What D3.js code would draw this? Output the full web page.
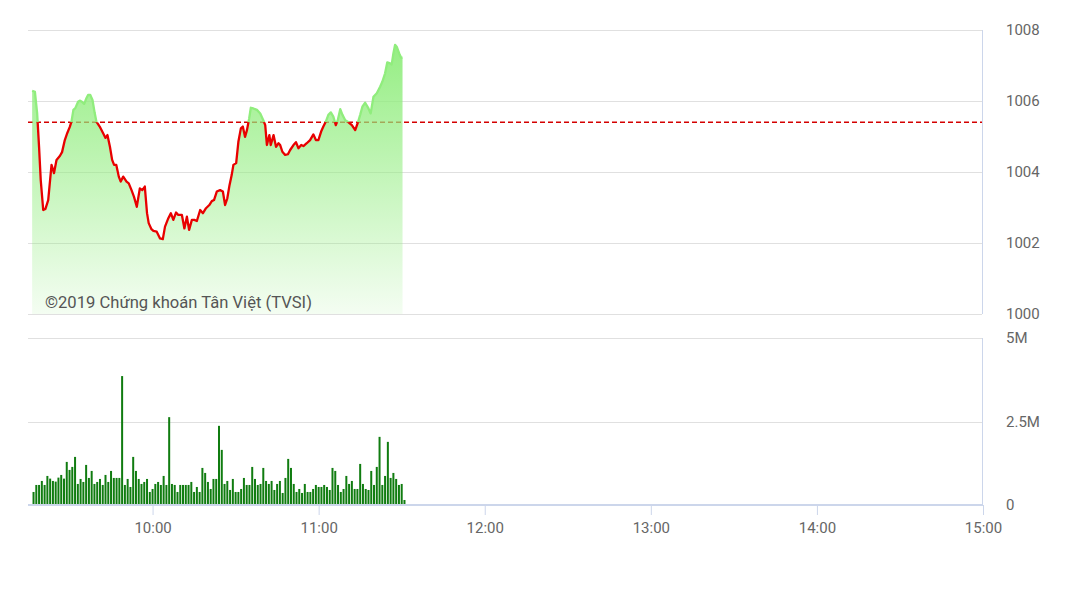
<!DOCTYPE html>
<html>
<head>
<meta charset="utf-8">
<script src="https://cdn.jsdelivr.net/npm/d3@7"></script>
<style>
  html, body { margin: 0; padding: 0; background: #fff; }
  svg { display: block; font-family: Roboto, "Noto Sans", sans-serif; }
</style>
</head>
<body>
<svg id="chart" width="1081" height="607"></svg>
<script>
// ---------- data ----------
// price samples: minutes after 09:15, index value
const priceMin = [
  1.5, 2.5, 3.3, 4.0, 4.6, 5.5, 6.3, 7.3, 8.5, 9.4,
  10.3, 11.5, 12.3, 13.3, 14.2, 15.1, 15.7, 16.4, 17.1, 18.1,
  18.7, 19.5, 20.3, 21.1, 21.7, 22.5, 23.3, 24.1, 24.7, 25.9,
  27.1, 28.0, 28.7, 29.6, 30.4, 31.1, 31.9, 32.8, 33.5, 34.4,
  35.6, 36.4, 37.4, 38.3, 39.3, 40.4, 41.3, 42.2, 43.0, 43.6,
  44.6, 45.3, 46.5, 47.7, 48.7, 49.5, 50.7, 51.6, 52.5, 53.5,
  54.3, 55.6, 56.5, 57.4, 58.2, 59.2, 60.1, 61.0, 62.2, 63.2,
  64.3, 65.5, 66.4, 67.2, 68.2, 69.4, 70.4, 71.2, 72.0, 72.8,
  73.6, 74.2, 75.2, 76.0, 76.9, 77.6, 78.4, 79.1, 79.9, 80.5,
  81.4, 82.7, 83.9, 85.0, 85.7, 86.3, 87.2, 87.7, 88.7, 89.6,
  90.5, 91.1, 91.9, 92.9, 93.9, 94.7, 95.9, 96.8, 97.7, 98.7,
  99.5, 100.7, 101.9, 103.1, 104.0, 104.9, 105.9, 106.7, 107.6, 108.5,
  109.4, 110.3, 111.2, 111.9, 112.8, 113.6, 114.6, 115.8, 117.0, 118.2,
  119.2, 120.0, 120.8, 121.8, 123.0, 123.8, 124.8, 126.0, 127.2, 128.0,
  129.0, 129.8, 130.8, 131.4, 132.0, 132.6, 133.2, 134.1, 134.8, 135.3
];
const priceVal = [
  1006.29,1006.26,1005.66,1004.70,1003.77,1002.93,1002.96,1003.21,1004.20,1003.97,
  1004.34,1004.45,1004.56,1004.90,1005.10,1005.27,1005.42,1005.75,1005.80,1005.98,
  1006.01,1005.98,1005.92,1006.08,1006.17,1006.17,1006.03,1005.66,1005.42,1005.28,
  1005.10,1004.96,1005.04,1004.71,1004.34,1004.20,1004.20,1003.87,1003.73,1003.87,
  1003.73,1003.68,1003.49,1003.30,1003.02,1003.54,1003.49,1003.59,1002.84,1002.56,
  1002.39,1002.34,1002.32,1002.13,1002.11,1002.46,1002.70,1002.84,1002.65,1002.86,
  1002.79,1002.79,1002.41,1002.74,1002.37,1002.65,1002.65,1002.62,1002.93,1002.84,
  1002.98,1003.07,1003.18,1003.21,1003.45,1003.49,1003.45,1003.07,1003.26,1003.63,
  1003.92,1004.20,1004.25,1004.85,1005.23,1005.28,1004.99,1005.18,1005.51,1005.81,
  1005.79,1005.75,1005.65,1005.46,1005.32,1004.76,1005.04,1004.76,1005.04,1004.71,
  1004.81,1004.76,1004.57,1004.48,1004.50,1004.62,1004.76,1004.84,1004.67,1004.76,
  1004.73,1004.81,1004.90,1005.06,1004.90,1004.90,1005.14,1005.28,1005.42,1005.61,
  1005.68,1005.56,1005.32,1005.46,1005.77,1005.61,1005.46,1005.40,1005.32,1005.18,
  1005.40,1005.61,1005.84,1005.95,1005.79,1005.65,1006.12,1006.22,1006.40,1006.54,
  1006.78,1007.09,1007.06,1007.03,1007.34,1007.58,1007.53,1007.34,1007.22,1007.22
];
const refPrice = 1005.4;

// volume per minute (millions), first bar at 09:17
const volStartMin = 2;
const volume = [
  0.39,0.60,0.60,0.72,0.60,0.87,0.79,0.72,0.70,0.82,
  0.90,0.79,1.29,1.05,1.14,1.44,0.63,0.78,0.69,1.20,
  0.81,1.02,0.63,0.69,0.78,0.60,0.90,0.69,1.02,0.81,
  0.81,0.81,3.86,0.60,0.78,0.54,1.44,1.02,0.78,0.63,
  0.69,0.78,0.39,0.48,0.63,0.69,0.60,0.87,0.60,2.63,
  0.63,0.60,0.39,0.60,0.60,0.60,0.60,0.69,0.39,0.54,
  0.39,1.11,0.96,0.69,0.48,0.78,0.78,2.37,1.65,0.63,
  0.72,0.45,0.78,0.39,0.39,0.48,0.81,0.60,0.60,1.14,
  0.78,0.60,0.63,1.11,0.72,0.63,0.72,0.45,0.63,0.72,
  0.36,0.81,1.38,1.11,0.63,0.39,0.48,0.36,0.63,0.39,
  0.39,0.48,0.60,0.54,0.54,0.60,0.54,0.45,1.11,1.02,
  0.60,0.39,0.48,0.87,0.63,0.72,0.48,0.48,1.23,0.63,
  0.48,0.45,1.02,0.60,1.14,2.04,0.60,0.87,1.89,0.81,
  0.96,0.78,0.60,0.63,0.15
];

const priceTicks = [1000, 1002, 1004, 1006, 1008];
const volTicks = [0, 2.5, 5];
const volTickLabels = ["0", "2.5M", "5M"];
const timeTicks = ["10:00", "11:00", "12:00", "13:00", "14:00", "15:00"];
const sessionStart = "09:15", sessionEnd = "15:00";
const watermark = "©2019 Chứng khoán Tân Việt (TVSI)";

// ---------- helpers ----------
const base = "2019-01-01T";
const parseT = s => new Date(base + s + ":00");
const t0 = parseT(sessionStart);
const minToDate = m => new Date(t0.getTime() + m * 60000);

const svg = d3.select("#chart");
const left = 28, right = 983;

const x = d3.scaleTime().domain([parseT(sessionStart), parseT(sessionEnd)]).range([left, right]);
const yP = d3.scaleLinear().domain([1000, 1008]).range([314, 30]);
const yV = d3.scaleLinear().domain([0, 5]).range([505, 338]);

const priceData = priceMin.map((m, i) => ({ t: minToDate(m), v: priceVal[i] }));

// defs
const defs = svg.append("defs");
const grad = defs.append("linearGradient").attr("id", "areaGrad")
  .attr("gradientUnits", "userSpaceOnUse")
  .attr("x1", 0).attr("x2", 0).attr("y1", yP(1008)).attr("y2", yP(1000));
grad.append("stop").attr("offset", "0%").attr("stop-color", "#90ed7d").attr("stop-opacity", 1);
grad.append("stop").attr("offset", "100%").attr("stop-color", "#90ed7d").attr("stop-opacity", 0.1);

const yRef = yP(refPrice);
defs.append("clipPath").attr("id", "clipAbove").append("rect")
  .attr("x", 0).attr("y", 0).attr("width", 1081).attr("height", yRef);
defs.append("clipPath").attr("id", "clipBelow").append("rect")
  .attr("x", 0).attr("y", yRef).attr("width", 1081).attr("height", 607 - yRef);

// ---------- price panel ----------
const gP = svg.append("g");
gP.selectAll("line.grid").data(priceTicks).join("line")
  .attr("x1", left).attr("x2", right - 1)
  .attr("y1", d => Math.round(yP(d)) + 0.5).attr("y2", d => Math.round(yP(d)) + 0.5)
  .attr("stroke", "#e0e0e0").attr("stroke-width", 1);
gP.append("line")
  .attr("x1", right - 0.5).attr("x2", right - 0.5)
  .attr("y1", yP(1008)).attr("y2", yP(1000))
  .attr("stroke", "#ccd6eb");

// reference dashed line (under the area)
gP.append("line")
  .attr("x1", left).attr("x2", right - 1)
  .attr("y1", yRef).attr("y2", yRef)
  .attr("stroke", "#d40000").attr("stroke-width", 1.4)
  .attr("stroke-dasharray", "5,3");

const area = d3.area().x(d => x(d.t)).y0(yP(1000)).y1(d => yP(d.v));
gP.append("path").datum(priceData).attr("d", area).attr("fill", "url(#areaGrad)");

const line = d3.line().x(d => x(d.t)).y(d => yP(d.v));
gP.append("path").datum(priceData).attr("d", line)
  .attr("fill", "none").attr("stroke", "#90ed7d").attr("stroke-width", 2.3)
  .attr("stroke-linejoin", "round").attr("clip-path", "url(#clipAbove)");
gP.append("path").datum(priceData).attr("d", line)
  .attr("fill", "none").attr("stroke", "#e80000").attr("stroke-width", 2.3)
  .attr("stroke-linejoin", "round").attr("clip-path", "url(#clipBelow)");

gP.selectAll("text.ylab").data(priceTicks).join("text")
  .attr("x", 1006).attr("y", d => yP(d) + 5)
  .attr("fill", "#666").attr("font-size", 15).text(d => d);

gP.append("text").attr("x", 45).attr("y", 308)
  .attr("fill", "#555").attr("font-size", 16.6).text(watermark);

// ---------- volume panel ----------
const gV = svg.append("g");
gV.selectAll("line.vgrid").data(volTicks.filter(d => d > 0)).join("line")
  .attr("x1", left).attr("x2", right - 1)
  .attr("y1", d => Math.round(yV(d)) + 0.5).attr("y2", d => Math.round(yV(d)) + 0.5)
  .attr("stroke", "#e0e0e0");
gV.append("line")
  .attr("x1", right - 0.5).attr("x2", right - 0.5)
  .attr("y1", yV(5)).attr("y2", yV(0))
  .attr("stroke", "#ccd6eb");

gV.selectAll("rect.bar").data(volume).join("rect")
  .attr("x", (d, i) => x(minToDate(volStartMin + i)) - 1)
  .attr("width", 2)
  .attr("y", d => yV(d))
  .attr("height", d => yV(0) - yV(d))
  .attr("fill", "#107c10");

// x axis
const xAxis = d3.axisBottom(x)
  .tickValues(timeTicks.map(parseT))
  .tickFormat(d3.timeFormat("%H:%M"))
  .tickSize(10).tickPadding(7);
const gX = gV.append("g").attr("transform", `translate(0,${yV(0)})`).call(xAxis);
gX.select(".domain").attr("stroke", "#ccd6eb").attr("stroke-width", 2)
  .attr("d", `M${left},0H${right}`);
gX.selectAll(".tick line").attr("stroke", "#ccd6eb");
gX.selectAll(".tick text").attr("fill", "#666").attr("font-size", 15)
  .attr("font-family", "Roboto, sans-serif");

gV.selectAll("text.vlab").data(volTicks).join("text")
  .attr("x", 1006).attr("y", d => yV(d) + 5)
  .attr("fill", "#666").attr("font-size", 15)
  .text((d, i) => volTickLabels[i]);
</script>
</body>
</html>
